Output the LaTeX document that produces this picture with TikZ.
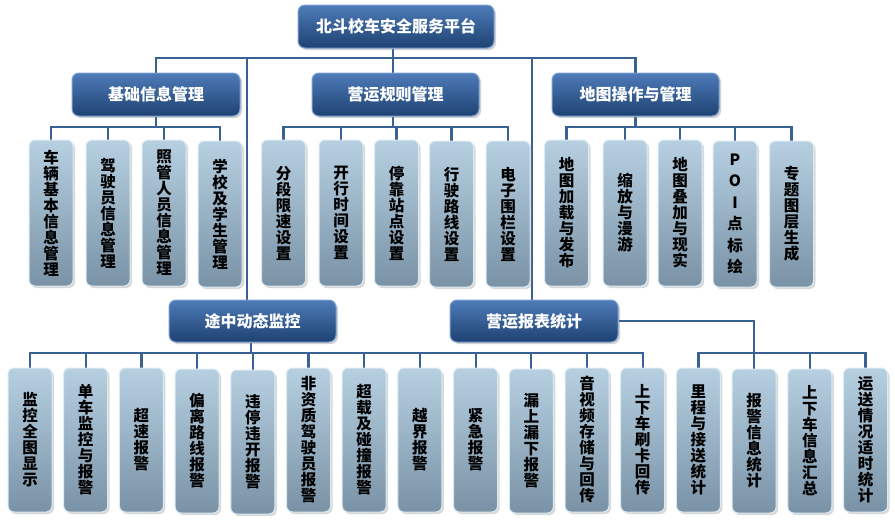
\documentclass[tikz,border=0pt]{standalone}
\usepackage{fontspec}
\setmainfont{Noto Sans CJK SC}
\usetikzlibrary{shadows,backgrounds}
\definecolor{linec}{RGB}{58,97,147}
\definecolor{topA}{RGB}{78,123,184}
\definecolor{topM}{RGB}{42,86,144}
\definecolor{topB}{RGB}{30,66,114}
\definecolor{topE}{RGB}{120,160,210}
\definecolor{leafA}{RGB}{182,208,226}
\definecolor{leafM}{RGB}{156,184,204}
\definecolor{leafB}{RGB}{122,146,165}
\definecolor{leafE}{RGB}{220,234,244}
\begin{document}
\begin{tikzpicture}[x=1pt,y=-1pt,
  conn/.style={draw=linec, line width=2.2pt},
  topbox/.style={rounded corners=7pt, top color=topA, middle color=topM, bottom color=topB,
    draw=topE, line width=1pt, text=white, font=\bfseries\fontsize{16}{18}\selectfont,
    minimum height=43pt, inner sep=0pt,
    drop shadow={shadow xshift=2pt, shadow yshift=-2pt, opacity=0.35}},
  leaf/.style={rounded corners=6pt, top color=leafA, middle color=leafM, bottom color=leafB,
    draw=leafE, line width=1pt, text=black, font=\bfseries\fontsize{15.5}{16}\selectfont,
    minimum width=44pt, text width=40pt, align=center, inner sep=0pt,
    drop shadow={shadow xshift=2pt, shadow yshift=-2pt, opacity=0.3}},
  upleaf/.style={leaf, minimum height=146pt},
  lowleaf/.style={leaf, minimum height=144pt}
]
% top level
\node[topbox, minimum width=196pt] (root) at (396,26.5) {北斗校车安全服务平台};
\node[topbox, minimum width=168pt] (basic) at (156,94.5) {基础信息管理};
\node[topbox, minimum width=167pt] (rule) at (395.5,94.5) {营运规则管理};
\node[topbox, minimum width=167pt] (map) at (635.5,94.5) {地图操作与管理};
\node[topbox, minimum width=167pt, minimum height=42pt] (monitor) at (252.5,321) {途中动态监控};
\node[topbox, minimum width=168pt, minimum height=42pt] (report) at (534,321) {营运报表统计};

% basic info children
\node[upleaf] (a1) at (51,213) {车\\辆\\基\\本\\信\\息\\管\\理};
\node[upleaf] (a2) at (108,213) {驾\\驶\\员\\信\\息\\管\\理};
\node[upleaf] (a3) at (164,213) {照\\管\\人\\员\\信\\息\\管\\理};
\node[upleaf] (a4) at (220,214) {学\\校\\及\\学\\生\\管\\理};

% rule children
\node[upleaf] (r1) at (283.5,213) {分\\段\\限\\速\\设\\置};
\node[upleaf] (r2) at (341,213) {开\\行\\时\\间\\设\\置};
\node[upleaf] (r3) at (396.5,213) {停\\靠\\站\\点\\设\\置};
\node[upleaf] (r4) at (451.5,214) {行\\驶\\路\\线\\设\\置};
\node[upleaf] (r5) at (508,214) {电\\子\\围\\栏\\设\\置};

% map children
\node[upleaf] (m1) at (566.5,213) {地\\图\\加\\载\\与\\发\\布};
\node[upleaf] (m2) at (625,213) {缩\\放\\与\\漫\\游};
\node[upleaf] (m3) at (680,213) {地\\图\\叠\\加\\与\\现\\实};
\node[upleaf, font=\bfseries\fontsize{15.5}{21.5}\selectfont] (m4) at (735,214) {P\\O\\I\\点\\标\\绘};
\node[upleaf] (m5) at (791.5,214) {专\\题\\图\\层\\生\\成};

% bottom children
\node[lowleaf] (b1) at (30,440) {监\\控\\全\\图\\显\\示};
\node[lowleaf] (b2) at (85.7,440) {单\\车\\监\\控\\与\\报\\警};
\node[lowleaf] (b3) at (141.4,440) {超\\速\\报\\警};
\node[lowleaf] (b4) at (197.1,441) {偏\\离\\路\\线\\报\\警};
\node[lowleaf] (b5) at (252.8,442) {违\\停\\违\\开\\报\\警};
\node[lowleaf] (b6) at (308.5,440) {非\\资\\质\\驾\\驶\\员\\报\\警};
\node[lowleaf] (b7) at (364.2,440) {超\\载\\及\\碰\\撞\\报\\警};
\node[lowleaf] (b8) at (419.9,440) {越\\界\\报\\警};
\node[lowleaf] (b9) at (475.6,440) {紧\\急\\报\\警};
\node[lowleaf] (b10) at (531.3,441) {漏\\上\\漏\\下\\报\\警};
\node[lowleaf] (b11) at (587,440) {音\\视\\频\\存\\储\\与\\回\\传};
\node[lowleaf] (b12) at (642.7,440) {上\\下\\车\\刷\\卡\\回\\传};
\node[lowleaf] (b13) at (698.4,440) {里\\程\\与\\接\\送\\统\\计};
\node[lowleaf] (b14) at (754.1,441) {报\\警\\信\\息\\统\\计};
\node[lowleaf] (b15) at (809.8,441) {上\\下\\车\\信\\息\\汇\\总};
\node[lowleaf] (b16) at (865.5,440) {运\\送\\情\\况\\适\\时\\统\\计};

\begin{scope}[on background layer]
\fill[white] (0,0) rectangle (895,525);
\coordinate (bus1) at (393,58);
\draw[conn] (root.south -| bus1) -- (bus1);
\draw[conn] (basic.north) |- (bus1) -| (map.north);
\draw[conn] (rule.north -| bus1) -- (bus1);
\draw[conn] ([xshift=-5.5pt]monitor.north) -- ([xshift=-5.5pt]monitor.north |- bus1);
\draw[conn] ([xshift=-2pt]report.north) -- ([xshift=-2pt]report.north |- bus1);

\coordinate (busA) at (156,127);
\draw[conn] (basic.south) -- (busA);
\draw[conn] (a1.north) |- (busA) -| (a4.north);
\foreach \n in {a2,a3} \draw[conn] (\n.north) -- (\n.north |- busA);

\coordinate (busR) at (393,127);
\draw[conn] (rule.south -| busR) -- (busR);
\draw[conn] (r1.north) |- (busR) -| (r5.north);
\foreach \n in {r2,r3,r4} \draw[conn] (\n.north) -- (\n.north |- busR);

\coordinate (busM) at (635.5,127);
\draw[conn] (map.south) -- (busM);
\draw[conn] (m1.north) |- (busM) -| (m5.north);
\foreach \n in {m2,m3,m4} \draw[conn] (\n.north) -- (\n.north |- busM);

\coordinate (busB) at (251,353);
\draw[conn] (monitor.south -| busB) -- (busB);
\draw[conn] (b1.north) |- (busB) -| (b12.north);
\foreach \n in {b2,b3,b4,b5,b6,b7,b8,b9,b10,b11} \draw[conn] (\n.north) -- (\n.north |- busB);

\draw[conn] (report.east) -| (b14.north);
\draw[conn] (b13.north) |- (b14.north |- busB) -| (b16.north);
\draw[conn] (b15.north) -- (b15.north |- busB);
\end{scope}
\useasboundingbox (0,0) rectangle (895,525);
\end{tikzpicture}
\end{document}
